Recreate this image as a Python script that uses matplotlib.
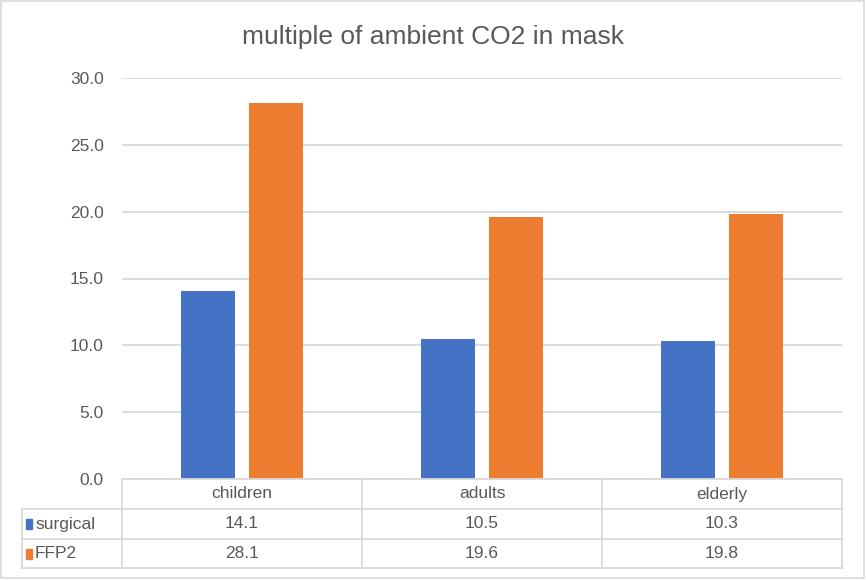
import matplotlib.pyplot as plt
from matplotlib.lines import Line2D
from matplotlib.patches import Rectangle

# data
groups = ['children', 'adults', 'elderly']
series_names = ['surgical', 'FFP2']
surgical = [14.1, 10.5, 10.3]
ffp2 = [28.1, 19.6, 19.8]
colors = ['#4472C4', '#ED7D31']

W, H = 866, 580
plt.rcParams['font.family'] = ['Liberation Sans', 'DejaVu Sans']
GRID = '#d9d9d9'
TXT = '#595959'
FS = 12.5


def fx(x):
    return x / W


def fy(y):
    return 1 - y / H


fig = plt.figure(figsize=(W / 100, H / 100), dpi=100)

# plot area
left, right, top, bottom = 122, 842, 78, 479
ax = fig.add_axes([fx(left), fy(bottom), (right - left) / W, (bottom - top) / H])
x = range(len(groups))
width = 0.225
off = 0.142
ax.bar([i - off for i in x], surgical, width, color=colors[0], zorder=3)
ax.bar([i + off for i in x], ffp2, width, color=colors[1], zorder=3)
ax.set_xlim(-0.5, len(groups) - 0.5)
ax.set_ylim(0, 30)
ax.set_yticks(range(0, 31, 5))
ax.set_yticklabels([f'{v:.1f}' for v in range(0, 31, 5)])
ax.yaxis.grid(True, color=GRID, linewidth=1.3, zorder=0)
ax.set_xticks([])
for s in ax.spines.values():
    s.set_visible(False)
ax.tick_params(axis='y', length=0, pad=13, labelsize=FS, labelcolor=TXT)

fig.text(0.5, fy(37), 'multiple of ambient CO2 in mask', ha='center', va='center',
         fontsize=19, color=TXT)

# data table below the plot
rows = [479, 509, 539, 568]
cols = [left, 362, 602, right]
tab_left = 22


def hline(y, x0, x1):
    fig.add_artist(Line2D([fx(x0), fx(x1)], [fy(y), fy(y)], color=GRID, lw=1.3))


def vline(x0, y0, y1):
    fig.add_artist(Line2D([fx(x0), fx(x0)], [fy(y0), fy(y1)], color=GRID, lw=1.3))


hline(rows[0], left, right)
for y in rows[1:]:
    hline(y, tab_left, right)
for c in cols:
    vline(c, rows[0], rows[-1])
vline(tab_left, rows[1], rows[-1])

for j, g in enumerate(groups):
    cx = (cols[j] + cols[j + 1]) / 2
    fig.text(fx(cx), fy((rows[0] + rows[1]) / 2), g, ha='center', va='center',
             fontsize=FS, color=TXT)

for r, (name, vals) in enumerate(zip(series_names, [surgical, ffp2])):
    cy = (rows[r + 1] + rows[r + 2]) / 2
    fig.add_artist(Rectangle((fx(26), fy(cy + 5)), 6 / W, 10 / H,
                             transform=fig.transFigure, color=colors[r]))
    fig.text(fx(35), fy(cy), name, ha='left', va='center', fontsize=FS, color=TXT)
    for j, v in enumerate(vals):
        cx = (cols[j] + cols[j + 1]) / 2
        fig.text(fx(cx), fy(cy), f'{v:.1f}', ha='center', va='center',
                 fontsize=FS, color=TXT)

# chart border
fig.add_artist(Rectangle((fx(1), fy(578)), 863 / W, 577 / H, transform=fig.transFigure,
                         fill=False, edgecolor=GRID, lw=1.2))

fig.savefig('out.png', dpi=100)
